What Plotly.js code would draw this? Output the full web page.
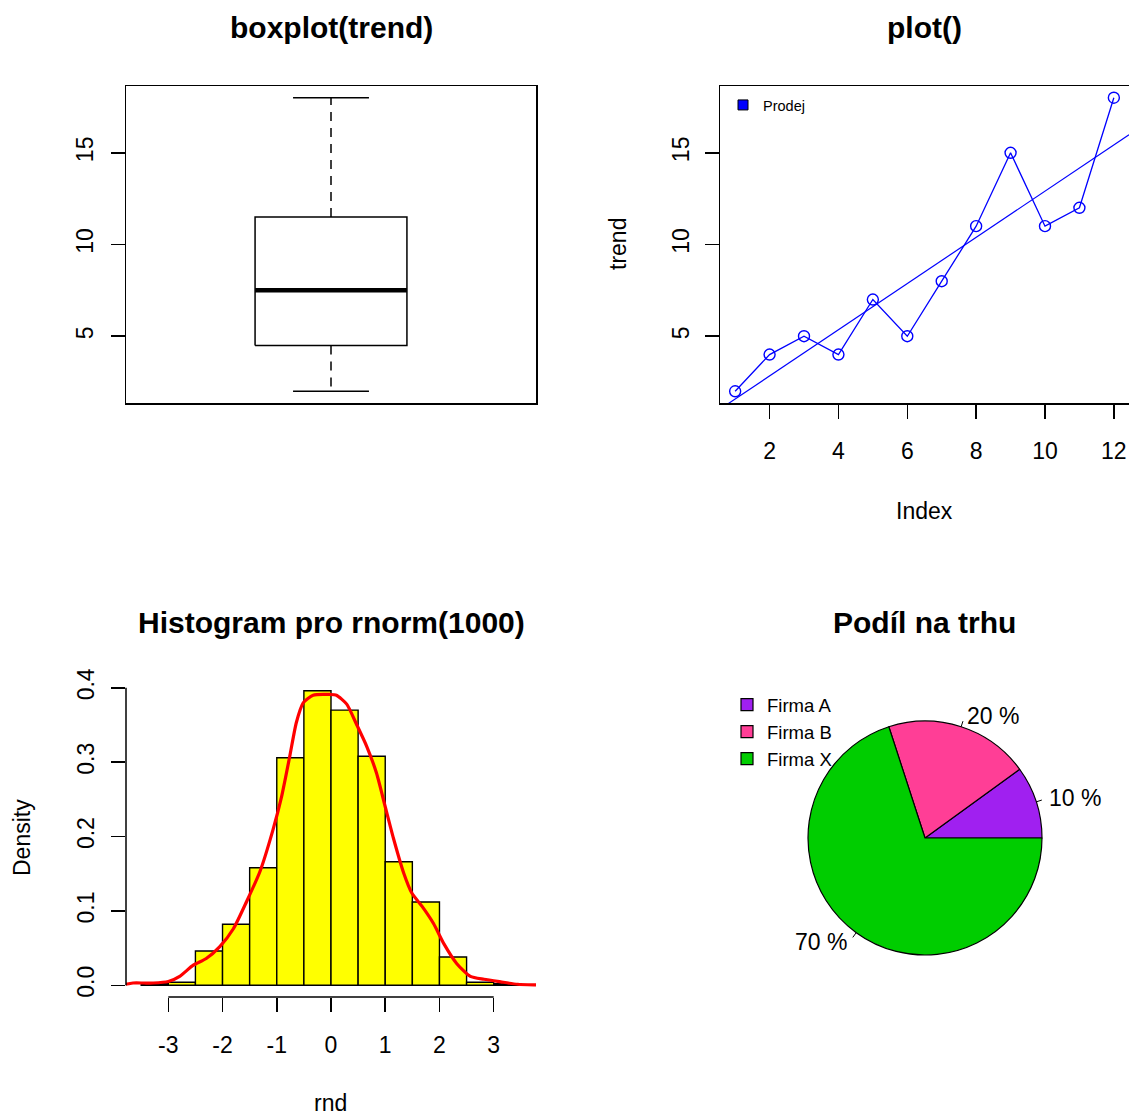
<!DOCTYPE html>
<html>
<head>
<meta charset="utf-8">
<script src="https://cdn.plot.ly/plotly-3.0.1.min.js"></script>
<style>html,body{margin:0;padding:0;background:#fff;}#chart{width:1129px;height:1115px;}</style>
</head>
<body>
<div id="chart"></div>
<script>
// ---------- DATA ----------
const trend = [2, 4, 5, 4, 7, 5, 8, 11, 15, 11, 12, 18];
const trendIndex = [1, 2, 3, 4, 5, 6, 7, 8, 9, 10, 11, 12];
const trendTicks = [5, 10, 15];
const indexTicks = [2, 4, 6, 8, 10, 12];
const legendName = 'Prodej';

const histBreaks = [-3.5, -3, -2.5, -2, -1.5, -1, -0.5, 0, 0.5, 1, 1.5, 2, 2.5, 3, 3.5];
const histDensity = [0.002, 0.004, 0.046, 0.082, 0.158, 0.306, 0.396, 0.370, 0.308, 0.166, 0.112, 0.038, 0.004, 0.002];
const densX = [-3.85, -3.78, -3.65, -3.45, -3.28, -3.0, -2.79, -2.54, -2.30, -2.05, -1.80, -1.56, -1.31, -1.07, -0.91, -0.76, -0.64, -0.51, -0.33, -0.02, 0.10, 0.29, 0.47, 0.66, 0.84, 1.0, 1.15, 1.34, 1.49, 1.68, 1.89, 2.08, 2.32, 2.57, 2.82, 3.13, 3.44, 3.78, 3.85];
const densY = [0.001, 0.0013, 0.003, 0.003, 0.003, 0.005, 0.012, 0.027, 0.036, 0.052, 0.076, 0.112, 0.153, 0.209, 0.254, 0.308, 0.353, 0.380, 0.390, 0.391, 0.390, 0.378, 0.351, 0.321, 0.285, 0.240, 0.198, 0.151, 0.124, 0.106, 0.083, 0.056, 0.029, 0.012, 0.008, 0.0045, 0.0013, 0.0005, 0.0004];
const rndTicks = [-3, -2, -1, 0, 1, 2, 3];
const rndTickText = ['-3', '-2', '-1', '0', '1', '2', '3'];
const densTicks = [0.0, 0.1, 0.2, 0.3, 0.4];
const densTickText = ['0.0', '0.1', '0.2', '0.3', '0.4'];

const pieLabels = ['Firma A', 'Firma B', 'Firma X'];
const pieValues = [10, 20, 70];
const pieColors = ['#A020F0', '#FF3E96', '#00CD00'];

const titles = ['boxplot(trend)', 'plot()', 'Histogram pro rnorm(1000)', 'Podíl na trhu'];

// ---------- HELPERS ----------
const W = 1129, H = 1115;
const FONT = 'Liberation Sans, Arial, sans-serif';
const px = p => p / W;
const py = p => 1 - p / H;

function fivenum(a) {
  const s = a.slice().sort((x, y) => x - y);
  const n = s.length;
  const n4 = Math.floor((n + 3) / 2) / 2;
  const d = [1, n4, (n + 1) / 2, n + 1 - n4, n];
  return d.map(di => 0.5 * (s[Math.floor(di) - 1] + s[Math.ceil(di) - 1]));
}
const fn = fivenum(trend);
const q1 = fn[1], med = fn[2], q3 = fn[3];
const iqr = q3 - q1;
const hiW = Math.max(...trend.filter(v => v <= q3 + 1.5 * iqr));
const loW = Math.min(...trend.filter(v => v >= q1 - 1.5 * iqr));

// regression line
const mx = trendIndex.reduce((s, v) => s + v, 0) / trendIndex.length;
const my = trend.reduce((s, v) => s + v, 0) / trend.length;
let sxy = 0, sxx = 0;
trendIndex.forEach((x, i) => { sxy += (x - mx) * (trend[i] - my); sxx += (x - mx) * (x - mx); });
const slope = sxy / sxx, icpt = my - slope * mx;
const x2Range = [0.56, 12.44];

// histogram bar centers
const histCenters = histDensity.map((_, i) => (histBreaks[i] + histBreaks[i + 1]) / 2);
const histWidths = histDensity.map((_, i) => histBreaks[i + 1] - histBreaks[i]);

const black = '#000000';
const lineStyle = {color: black, width: 1.5};

// ---------- TRACES ----------
const traces = [];
const bw = 0.2, sw = 0.1;
traces.push({type: 'scatter', mode: 'lines', xaxis: 'x', yaxis: 'y', x: [1 - bw, 1 + bw, 1 + bw, 1 - bw, 1 - bw], y: [q1, q1, q3, q3, q1], line: lineStyle, showlegend: false, hoverinfo: 'skip'});
traces.push({type: 'scatter', mode: 'lines', xaxis: 'x', yaxis: 'y', x: [1 - bw, 1 + bw], y: [med, med], line: {color: black, width: 4.5}, showlegend: false, hoverinfo: 'skip'});
traces.push({type: 'scatter', mode: 'lines', xaxis: 'x', yaxis: 'y', x: [1, 1], y: [q3, hiW], line: {color: black, width: 1.5, dash: '9px,7px'}, showlegend: false, hoverinfo: 'skip'});
traces.push({type: 'scatter', mode: 'lines', xaxis: 'x', yaxis: 'y', x: [1, 1], y: [q1, loW], line: {color: black, width: 1.5, dash: '9px,7px'}, showlegend: false, hoverinfo: 'skip'});
traces.push({type: 'scatter', mode: 'lines', xaxis: 'x', yaxis: 'y', x: [1 - sw, 1 + sw], y: [hiW, hiW], line: lineStyle, showlegend: false, hoverinfo: 'skip'});
traces.push({type: 'scatter', mode: 'lines', xaxis: 'x', yaxis: 'y', x: [1 - sw, 1 + sw], y: [loW, loW], line: lineStyle, showlegend: false, hoverinfo: 'skip'});

// plot()
traces.push({type: 'scatter', mode: 'lines+markers', xaxis: 'x2', yaxis: 'y2', x: trendIndex, y: trend,
  line: {color: '#0000FF', width: 1.3}, marker: {symbol: 'circle-open', size: 11, color: '#0000FF', line: {width: 1.4}}, showlegend: false, hoverinfo: 'skip'});
traces.push({type: 'scatter', mode: 'lines', xaxis: 'x2', yaxis: 'y2', x: x2Range, y: x2Range.map(x => icpt + slope * x),
  line: {color: '#0000FF', width: 1.2}, showlegend: false, hoverinfo: 'skip'});
traces.push({type: 'scatter', mode: 'markers', xaxis: 'x2', yaxis: 'y2', x: [null], y: [null], name: legendName,
  marker: {symbol: 'square', size: 10, color: '#0000FF', line: {color: black, width: 1}}, showlegend: true, legend: 'legend'});

// histogram
traces.push({type: 'bar', xaxis: 'x3', yaxis: 'y3', x: histCenters, y: histDensity, width: histWidths,
  marker: {color: '#FFFF00', line: {color: black, width: 1.4}}, showlegend: false, hoverinfo: 'skip'});
traces.push({type: 'scatter', mode: 'lines', xaxis: 'x3', yaxis: 'y3', x: densX, y: densY,
  line: {color: '#FF0000', width: 3.2, shape: 'spline', smoothing: 0.6}, showlegend: false, hoverinfo: 'skip'});

// pie (R starts the first slice at 3 o'clock and runs counterclockwise)
const total = pieValues.reduce((s, v) => s + v, 0);
const pcx = 925, pcy = 838, pr = 117;
traces.push({type: 'pie', labels: pieLabels, values: pieValues, sort: false, direction: 'counterclockwise',
  rotation: 90 - 360 * pieValues[0] / total,
  marker: {colors: pieColors, line: {color: black, width: 1.2}}, textinfo: 'none', hoverinfo: 'skip',
  domain: {x: [px(pcx - pr), px(pcx + pr)], y: [py(pcy + pr), py(pcy - pr)]}, legend: 'legend2', showlegend: true});

// ---------- PIE LABELS ----------
const annotations = [];
const shapes = [];
let cum = 0;
pieValues.forEach((v, i) => {
  const th = 2 * Math.PI * (cum + v / 2) / total;
  cum += v;
  const c = Math.cos(th), s = Math.sin(th);
  shapes.push({type: 'line', xref: 'paper', yref: 'paper', x0: px(pcx + pr * c), y0: py(pcy - pr * s), x1: px(pcx + 1.05 * pr * c), y1: py(pcy - 1.05 * pr * s), line: {color: black, width: 1}});
  annotations.push({xref: 'paper', yref: 'paper', x: px(pcx + 1.1 * pr * c), y: py(pcy - 1.1 * pr * s), text: Math.round(v / total * 100) + ' %',
    showarrow: false, xanchor: c > 0 ? 'left' : 'right', yanchor: 'middle', font: {family: FONT, size: 23, color: black}});
});

// ---------- TITLES / AXIS LABELS ----------
const tPos = [[331, 27], [924.5, 27], [331, 622], [924.5, 622]];
titles.forEach((t, i) => annotations.push({xref: 'paper', yref: 'paper', x: px(tPos[i][0]), y: py(tPos[i][1]), text: '<b>' + t + '</b>', showarrow: false, xanchor: 'center', yanchor: 'middle', font: {family: FONT, size: 30, color: black}}));
const axFont = {family: FONT, size: 23, color: black};
annotations.push({xref: 'paper', yref: 'paper', x: px(618), y: py(244), text: 'trend', textangle: -90, showarrow: false, xanchor: 'center', yanchor: 'middle', font: axFont});
annotations.push({xref: 'paper', yref: 'paper', x: px(924.5), y: py(511), text: 'Index', showarrow: false, xanchor: 'center', yanchor: 'middle', font: axFont});
annotations.push({xref: 'paper', yref: 'paper', x: px(22), y: py(838), text: 'Density', textangle: -90, showarrow: false, xanchor: 'center', yanchor: 'middle', font: axFont});
annotations.push({xref: 'paper', yref: 'paper', x: px(330.5), y: py(1103), text: 'rnd', showarrow: false, xanchor: 'center', yanchor: 'middle', font: axFont});

// histogram axis lines spanning the tick range
shapes.push({type: 'line', xref: 'x3 domain', yref: 'y3', x0: 0, x1: 0, y0: densTicks[0], y1: densTicks[densTicks.length - 1], line: {color: black, width: 1.5}});
shapes.push({type: 'line', xref: 'x3', yref: 'y3 domain', x0: rndTicks[0], x1: rndTicks[rndTicks.length - 1], y0: 0, y1: 0, line: {color: black, width: 1.5}});

// ---------- AXES ----------
const tickFont = {family: FONT, size: 23, color: black};
const frameAxis = {showline: true, mirror: true, linecolor: black, linewidth: 1.5, showgrid: false, zeroline: false, ticks: 'outside', ticklen: 14, tickwidth: 1.5, tickcolor: black, tickfont: tickFont, fixedrange: true};
const xStand = 13, yStand = 8;

const layout = {
  width: W, height: H, margin: {l: 0, r: 0, t: 0, b: 0}, paper_bgcolor: '#fff', plot_bgcolor: 'rgba(0,0,0,0)',
  showlegend: true, hovermode: false,
  xaxis: Object.assign({}, frameAxis, {domain: [px(126), px(536)], range: [0.46, 1.54], ticks: '', showticklabels: false, anchor: 'y'}),
  yaxis: Object.assign({}, frameAxis, {domain: [py(403), py(86)], range: [1.36, 18.64], tickvals: trendTicks, tickangle: -90, ticklabelstandoff: yStand, anchor: 'x'}),
  xaxis2: Object.assign({}, frameAxis, {domain: [px(720), 1], range: x2Range, tickvals: indexTicks, ticklabelstandoff: xStand, anchor: 'y2'}),
  yaxis2: Object.assign({}, frameAxis, {domain: [py(403), py(86)], range: [1.36, 18.64], tickvals: trendTicks, tickangle: -90, ticklabelstandoff: yStand - 2, anchor: 'x2'}),
  xaxis3: Object.assign({}, frameAxis, {showline: false, domain: [px(126), px(536)], range: [-3.78, 3.78], tickvals: rndTicks, ticktext: rndTickText, ticklabelstandoff: xStand, anchor: 'y3'}),
  yaxis3: Object.assign({}, frameAxis, {showline: false, domain: [py(997), py(679)], range: [-0.0158, 0.4118], tickvals: densTicks, ticktext: densTickText, tickangle: -90, ticklabelstandoff: yStand, anchor: 'x3'}),
  legend: {x: px(723), y: py(89), xanchor: 'left', yanchor: 'top', bgcolor: 'rgba(0,0,0,0)', font: {family: FONT, size: 14.5, color: black}, itemclick: false, itemdoubleclick: false},
  legend2: {x: px(727), y: py(686), xanchor: 'left', yanchor: 'top', bgcolor: 'rgba(0,0,0,0)', font: {family: FONT, size: 18.5, color: black}, tracegroupgap: 0, itemclick: false, itemdoubleclick: false},
  annotations: annotations,
  shapes: shapes
};

Plotly.newPlot('chart', traces, layout, {displayModeBar: false, staticPlot: true});
</script>
</body>
</html>
